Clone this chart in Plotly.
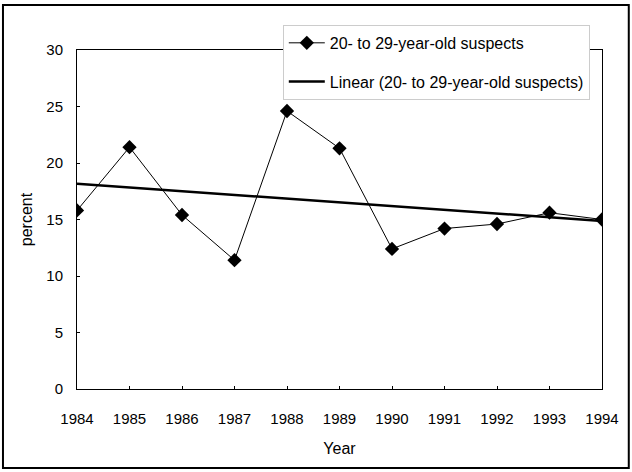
import numpy as np
import plotly.graph_objects as go

years = [1984, 1985, 1986, 1987, 1988, 1989, 1990, 1991, 1992, 1993, 1994]
suspects_20_29 = [15.8, 21.4, 15.4, 11.4, 24.6, 21.3, 12.4, 14.2, 14.6, 15.6, 15.0]
tick_labels = [str(y) for y in years]
y_ticks = [0, 5, 10, 15, 20, 25, 30]

series_name = "20- to 29-year-old suspects"
trend_name = "Linear (20- to 29-year-old suspects)"

# Linear trend line fitted to the series (as Excel does)
slope, intercept = np.polyfit(years, suspects_20_29, 1)
trend = [slope * x + intercept for x in years]

FONT = "Liberation Sans, Arial, sans-serif"

fig = go.Figure()
fig.add_trace(go.Scatter(
    x=years, y=suspects_20_29, name=series_name, mode="lines+markers",
    line=dict(color="black", width=1),
    marker=dict(symbol="diamond", size=11, color="black"),
    legendgroup="a",
))
fig.add_trace(go.Scatter(
    x=years, y=trend, name=trend_name, mode="lines",
    line=dict(color="black", width=2.5),
    legendgroup="b",
))

# outer chart border
fig.add_shape(type="rect", xref="paper", yref="paper",
              x0=-0.141, x1=1.051, y0=-0.233, y1=1.133,
              line=dict(color="black", width=2), fillcolor="rgba(0,0,0,0)")

fig.update_layout(
    width=632, height=472,
    margin=dict(l=77, r=30, t=50, b=83, autoexpand=False),
    paper_bgcolor="white", plot_bgcolor="white",
    font=dict(family=FONT, size=15, color="black"),
    showlegend=True,
    legend=dict(
        x=0.392, y=1.074, xanchor="left", yanchor="top",
        bgcolor="white", bordercolor="#cccccc", borderwidth=1,
        font=dict(size=16, family=FONT),
        traceorder="grouped", tracegroupgap=15,
        itemwidth=36,
    ),
    xaxis=dict(
        range=[1984, 1994], tickmode="array", tickvals=years, ticktext=tick_labels,
        showgrid=False, zeroline=False,
        showline=True, linecolor="black", linewidth=1, mirror=True,
        ticks="inside", ticklen=3, tickcolor="black",
        ticklabelstandoff=16,
        title=dict(text="Year", standoff=16, font=dict(size=16)),
    ),
    yaxis=dict(
        range=[0, 30], tickmode="array", tickvals=y_ticks,
        showgrid=False, zeroline=False,
        showline=True, linecolor="black", linewidth=1, mirror=True,
        ticks="inside", ticklen=3, tickcolor="black",
        ticklabelstandoff=10,
        title=dict(text="percent", standoff=9, font=dict(size=16)),
    ),
)

fig.write_html("out.html", config={"displayModeBar": False},
               post_script="document.body.style.margin='0px';")
